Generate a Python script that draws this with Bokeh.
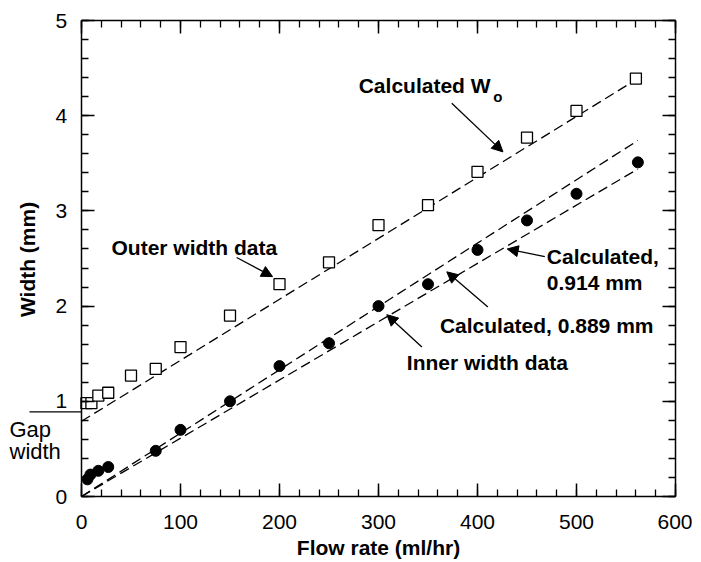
import math
from bokeh.plotting import figure
from bokeh.models import (Range1d, LinearAxis, SingleIntervalTicker, Label, Arrow,
                          NormalHead, CustomLabelingPolicy)
from bokeh.core.properties import value
from bokeh.embed import file_html
from bokeh.resources import INLINE

# ---- data ----
outer_flow = [5, 10, 17, 27, 50, 75, 100, 150, 200, 250, 300, 350, 400, 450, 500, 560]
outer_width = [0.98, 0.98, 1.06, 1.09, 1.27, 1.34, 1.57, 1.90, 2.23, 2.46, 2.85, 3.06, 3.41, 3.77, 4.05, 4.39]
inner_flow = [6, 9, 17, 27, 75, 100, 150, 200, 250, 300, 350, 400, 450, 500, 562]
inner_width = [0.18, 0.23, 0.27, 0.31, 0.48, 0.70, 1.00, 1.37, 1.61, 2.00, 2.23, 2.59, 2.90, 3.18, 3.51]
calc_flow = [0, 562]
calc_wo = [0.79, 4.39]
calc_889 = [0.0, 3.74]
calc_914 = [0.0, 3.44]
gap_width = 0.889
x_min, x_max = 0, 600
y_min, y_max = 0, 5

FONT = "Liberation Sans"
FS = "21px"

# geometry: the Bokeh frame fills the canvas; the boxed area sits inside it
BOX_W, BOX_H = 594, 476
PAD_L, PAD_R, PAD_T, PAD_B = 81, 17, 20, 63
XS = BOX_W / (x_max - x_min)
YS = BOX_H / (y_max - y_min)

p = figure(width=PAD_L + BOX_W + PAD_R, height=PAD_T + BOX_H + PAD_B,
           output_backend="svg", toolbar_location=None,
           x_range=Range1d(x_min - PAD_L / XS, x_max + PAD_R / XS),
           y_range=Range1d(y_min - PAD_B / YS, y_max + PAD_T / YS),
           min_border_left=0, min_border_right=0, min_border_top=0, min_border_bottom=0,
           x_axis_location=None, y_axis_location=None)
p.title.visible = False
p.grid.visible = False
p.outline_line_color = None
p.background_fill_color = "white"
p.border_fill_color = "white"

hide_all = CustomLabelingPolicy(code="""
const keep = [...indices]
for (const i of keep) indices.unset(i)
""")

def make_axis(interval, loc, bounds, side, inward_out, labels=False, standoff=0):
    ax = LinearAxis(ticker=SingleIntervalTicker(interval=interval, num_minor_ticks=5),
                    fixed_location=loc, bounds=bounds)
    ax.axis_line_width = 1.5
    ax.axis_line_color = "black"
    if inward_out:      # ticks must point "out" of this panel side to reach into the box
        ax.major_tick_in, ax.major_tick_out = 0, 13
        ax.minor_tick_in, ax.minor_tick_out = 0, 7
    else:
        ax.major_tick_in, ax.major_tick_out = 13, 0
        ax.minor_tick_in, ax.minor_tick_out = 7, 0
    ax.major_tick_line_width = 1.5
    ax.minor_tick_line_width = 1.3
    ax.major_label_text_font = FONT
    ax.major_label_text_font_size = FS
    ax.major_label_text_color = "black"
    if labels:
        ax.major_label_standoff = standoff
    else:
        ax.major_label_policy = hide_all
        ax.major_label_standoff = 0
    p.add_layout(ax, side)
    return ax

# bottom edge of the box: ticks upward, labels pulled below the edge
make_axis(100, y_min, (x_min, x_max), "above", True, labels=True, standoff=-45)
# top edge
make_axis(100, y_max, (x_min, x_max), "above", False)
# left edge: ticks rightward, labels pulled to the left of the edge
make_axis(1, x_min, (y_min, y_max), "right", True, labels=True, standoff=-39)
# right edge
make_axis(1, x_max, (y_min, y_max), "right", False)

# calculated lines
for ys in (calc_wo, calc_889, calc_914):
    p.line(calc_flow, ys, line_color="black", line_width=1.3, line_dash="10 5")

# data
p.scatter(outer_flow, outer_width, marker="square", size=11, fill_color="white",
          line_color="black", line_width=1.3)
p.scatter(inner_flow, inner_width, marker="circle", size=11, fill_color="black",
          line_color="black")

def lab(x, y, text, size=FS, bold=True):
    p.add_layout(Label(x=x, y=y, text=text, text_font=FONT, text_font_size=size,
                       text_font_style="bold" if bold else "normal", text_color="black",
                       text_align="left", text_baseline="middle"))

def arrow(x0, y0, x1, y1):
    p.add_layout(Arrow(x_start=x0, y_start=y0, x_end=x1, y_end=y1, line_width=1.3,
                       line_color="black",
                       end=NormalHead(size=11, fill_color="black", line_color="black")))

lab(280, 4.32, "Calculated W")
lab(416, 4.20, "o", size="15px")
arrow(374, 4.13, 425.7, 3.62)

lab(30.3, 2.62, "Outer width data")
arrow(156.7, 2.51, 193, 2.31)

lab(328.6, 1.41, "Inner width data")
arrow(343.8, 1.57, 308.4, 1.91)

lab(362, 1.80, "Calculated, 0.889 mm")
arrow(410.5, 1.99, 369, 2.36)

lab(470, 2.52, "Calculated,")
lab(470, 2.25, "0.914 mm")
arrow(468, 2.52, 430, 2.60)

# axis titles and the gap-width marker
p.text(x=[(x_min + x_max) / 2], y=[y_min - 51 / YS], text=["Flow rate (ml/hr)"],
       text_font=value(FONT), text_font_size=FS, text_font_style="bold",
       text_color="black", text_align="center", text_baseline="middle")
p.text(x=[-54 / XS], y=[2.49], text=["Width (mm)"], angle=math.pi / 2,
       text_font=value(FONT), text_font_size=FS, text_font_style="bold",
       text_color="black", text_align="center", text_baseline="middle")
p.text(x=[-72 / XS, -72 / XS], y=[0.70, 0.47], text=["Gap", "width"],
       text_font=value(FONT), text_font_size="22px", text_color="black",
       text_align="left", text_baseline="middle")
p.line(x=[-52 / XS, x_min], y=[gap_width, gap_width], line_color="black", line_width=1.3)

open("out.html", "w").write(file_html(p, INLINE))
